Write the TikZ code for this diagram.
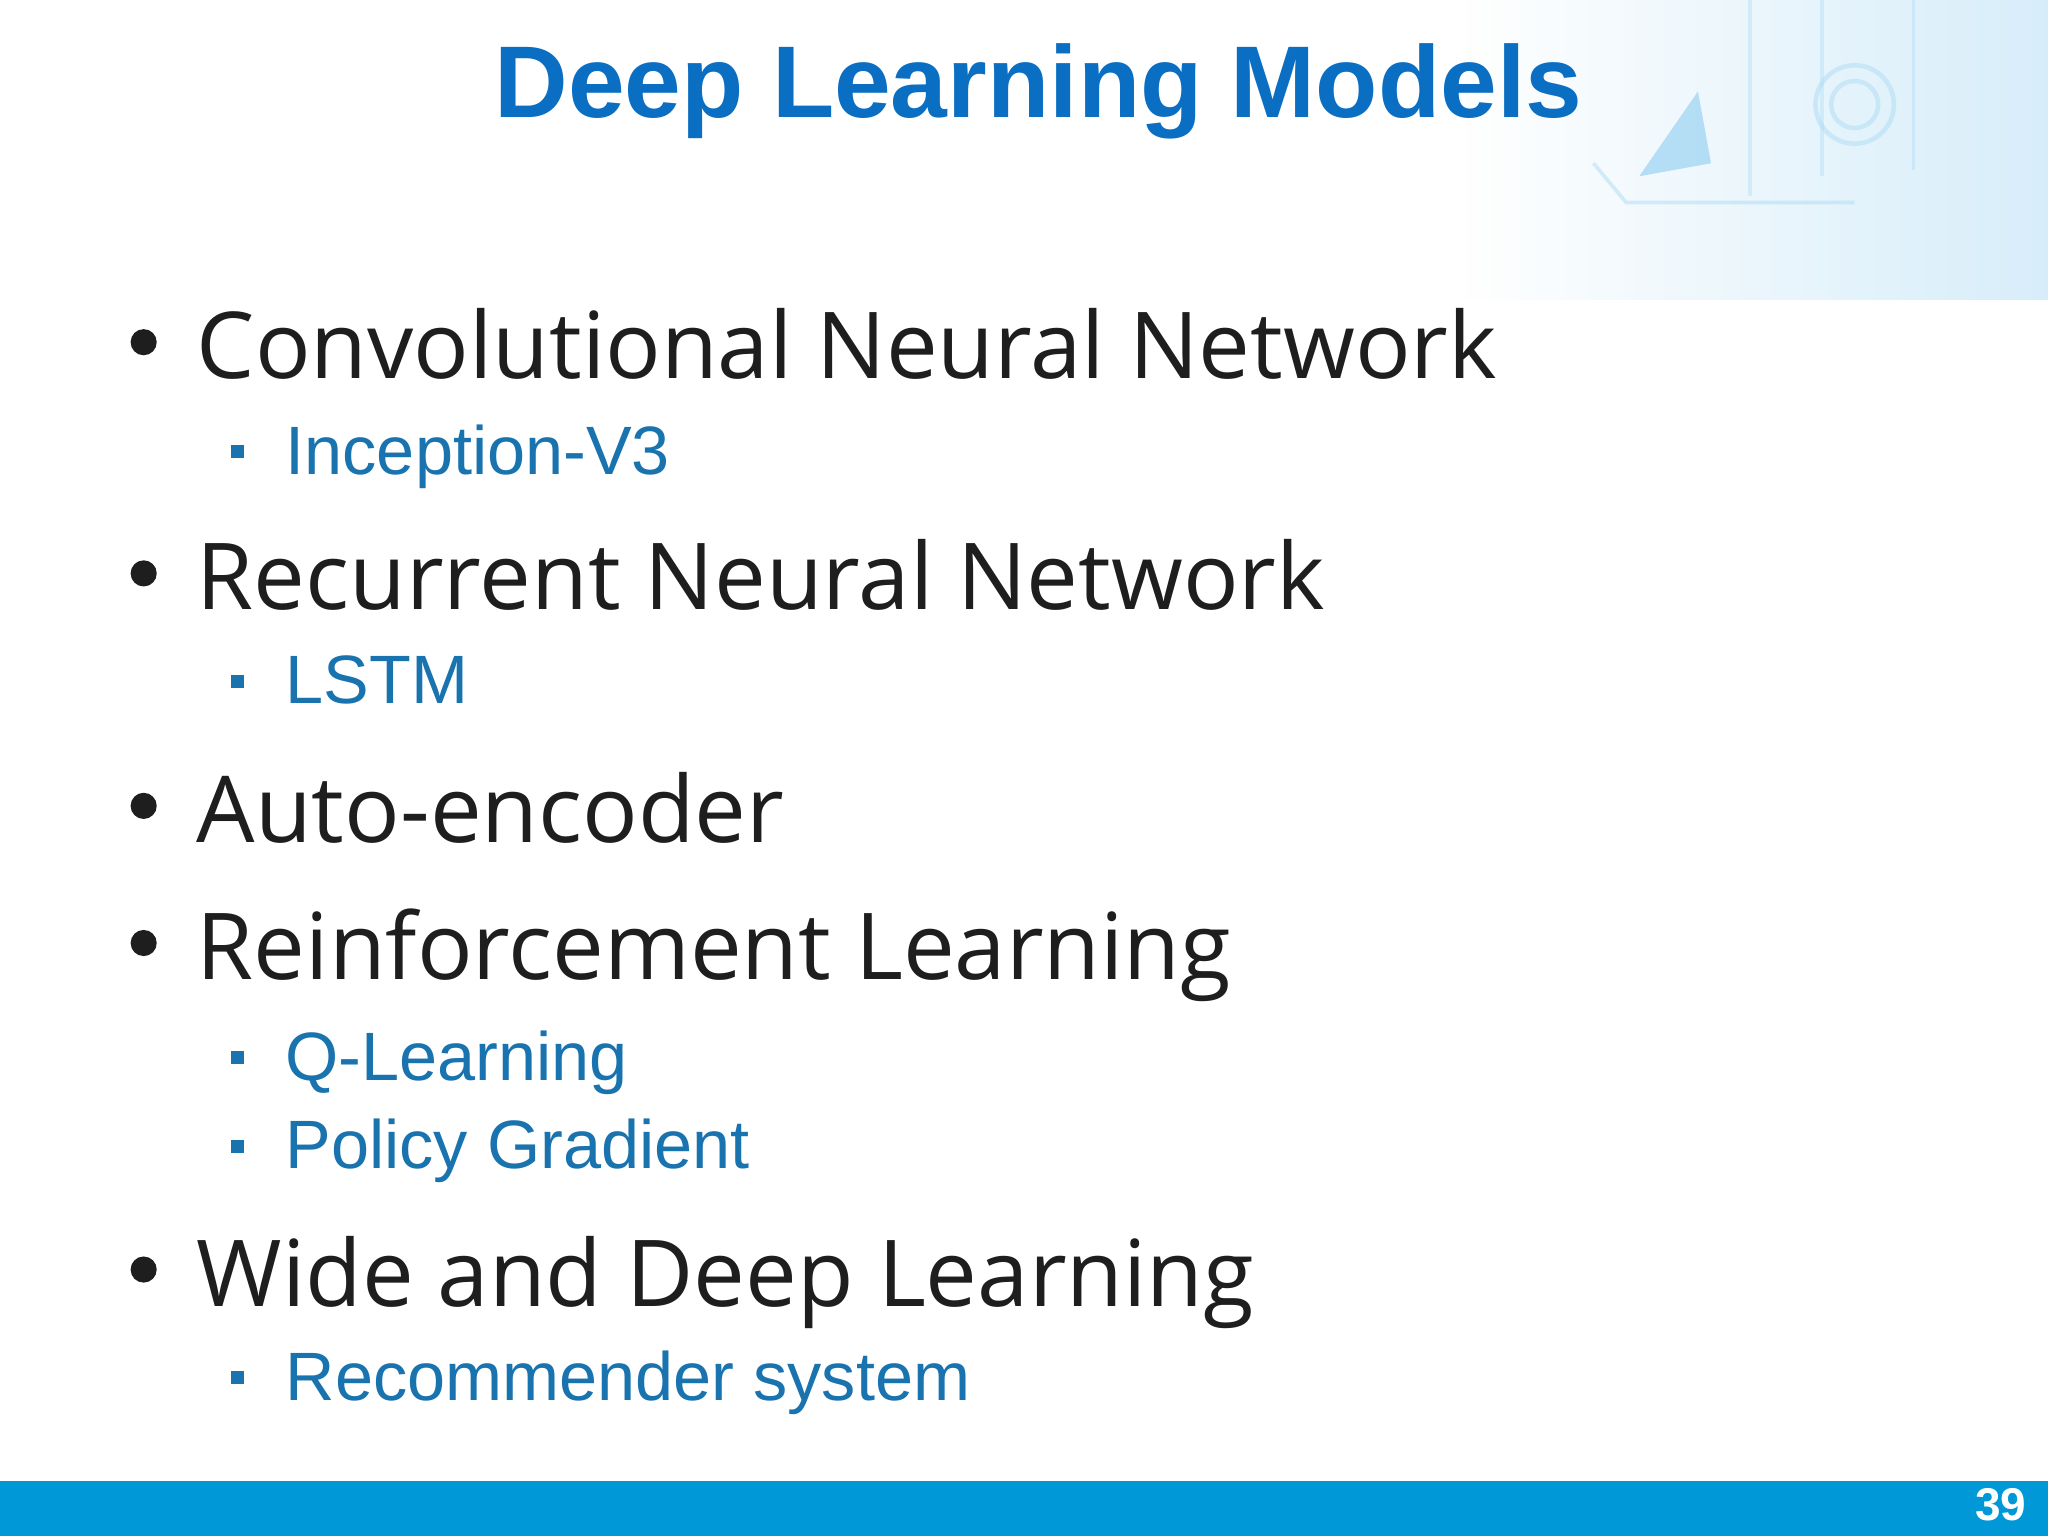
\documentclass[tikz,border=0pt]{standalone}
\usepackage{fontspec}
\setmainfont{Liberation Sans}
\newfontfamily\bulletfont{Open Sans}
\usetikzlibrary{fadings}
\definecolor{titleblue}{RGB}{10,110,195}
\definecolor{subblue}{RGB}{25,115,175}
\definecolor{barblue}{RGB}{0,152,214}
\definecolor{maintext}{RGB}{30,30,30}
\definecolor{decoblue}{RGB}{140,205,240}
\tikzset{
  mainitem/.style={anchor=base west, inner sep=0pt, text=maintext, font=\bulletfont\fontsize{20.1}{24}\selectfont},
  subitem/.style={anchor=base west, inner sep=0pt, text=subblue, font=\fontsize{14.9}{18}\selectfont},
  dot/.style={circle, fill=maintext, inner sep=0pt, minimum size=0.2cm},
  sq/.style={rectangle, fill=subblue, inner sep=0pt, minimum size=0.1cm},
}
\begin{document}
\begin{tikzpicture}[x=0.01cm,y=-0.01cm]
\useasboundingbox (0,0) rectangle (1568,1176);
\fill[white] (0,0) rectangle (1568,1176);
% decoration
\fill[decoblue, path fading=west, opacity=0.35] (1120,0) rectangle (1568,230);
\draw[decoblue!70!white, line width=1pt, opacity=0.5] (1420,80) circle (30);
\draw[decoblue!70!white, line width=1pt, opacity=0.5] (1420,80) circle (18);
\draw[decoblue!70!white, line width=0.8pt, opacity=0.5] (1220,125) -- (1245,155) -- (1420,155);
\draw[decoblue!70!white, line width=0.8pt, opacity=0.4] (1340,0) -- (1340,150) (1395,0) -- (1395,135) (1465,0) -- (1465,130);
\fill[decoblue, opacity=0.6] (1300,70) -- (1310,125) -- (1255,135) -- cycle;
\node[anchor=base, inner sep=0pt, text=titleblue, font=\fontsize{22.2}{26}\selectfont\bfseries] (title) at (795,90) {Deep Learning Models};
\node[dot] (d1) at (110,262) {};
\node[mainitem] (m1) at (150,290) {Convolutional Neural Network};
\node[sq] (s1) at (182,346) {};
\node[subitem] (t1) at (218,363) {Inception-V3};
\node[dot] (d2) at (110,439) {};
\node[mainitem] (m2) at (150,467) {Recurrent Neural Network};
\node[sq] (s2) at (182,522) {};
\node[subitem] (t2) at (218,539) {LSTM};
\node[dot] (d3) at (110,617) {};
\node[mainitem] (m3) at (150,645) {Auto-encoder};
\node[dot] (d4) at (110,722) {};
\node[mainitem] (m4) at (150,750) {Reinforcement Learning};
\node[sq] (s4) at (182,810) {};
\node[subitem] (t4) at (218,827) {Q-Learning};
\node[sq] (s5) at (182,878) {};
\node[subitem] (t5) at (218,895) {Policy Gradient};
\node[dot] (d6) at (110,972) {};
\node[mainitem] (m6) at (150,1000) {Wide and Deep Learning};
\node[sq] (s6) at (182,1055) {};
\node[subitem] (t6) at (218,1072) {Recommender system};
\fill[barblue] (0,1134) rectangle (1568,1176);
\node[anchor=base east, inner sep=0pt, text=white, font=\fontsize{10}{12}\selectfont\bfseries] (pg) at (1552,1164) {39};
\end{tikzpicture}
\end{document}
